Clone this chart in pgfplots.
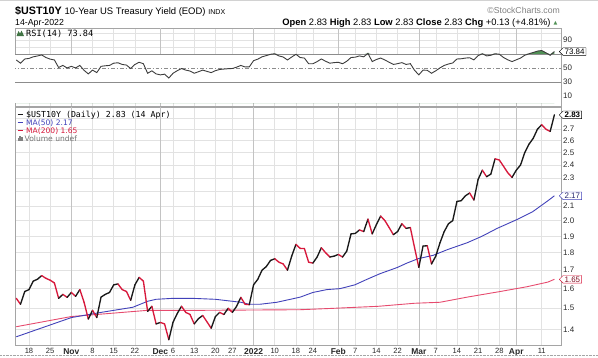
\documentclass[border=0pt]{standalone}
\usepackage{pgfplots}
\pgfplotsset{compat=1.18}
\usepackage{pgfplotstable}
\usetikzlibrary{shapes.symbols}
\usepackage{fontspec}
\setmainfont{Liberation Sans}
\newfontfamily\mono{DejaVu Sans Mono}
\newfontfamily\dejavu{DejaVu Sans}
\definecolor{upc}{RGB}{25,25,25}
\definecolor{dnc}{RGB}{215,25,60}
\definecolor{ma50}{RGB}{65,65,185}
\definecolor{ma200}{RGB}{230,75,110}
\definecolor{gridc}{RGB}{226,226,226}
\definecolor{gridm}{RGB}{195,195,195}
\definecolor{framec}{RGB}{165,165,165}
\definecolor{tickc}{RGB}{40,40,40}
\definecolor{rsiline}{RGB}{60,60,60}
\definecolor{rsiref}{RGB}{140,140,140}
\definecolor{rsifill}{RGB}{80,145,85}

\pgfplotstableread{
x y d
-3 1.55 0
-2 1.52 1
-1 1.585 1
0 1.595 1
1 1.64 1
2 1.65 1
3 1.67 0
4 1.655 0
5 1.645 0
6 1.63 0
7 1.55 1
8 1.57 0
9 1.555 1
10 1.58 0
11 1.56 1
12 1.595 0
13 1.53 0
14 1.448 1
15 1.49 0
16 1.455 1
17 1.556 1
18 1.57 1
19 1.58 1
20 1.62 1
21 1.625 0
22 1.595 0
23 1.585 0
24 1.54 1
25 1.62 1
26 1.66 0
27 1.64 0
28 1.485 1
29 1.51 0
30 1.425 1
31 1.432 0
32 1.425 0
33 1.353 1
34 1.433 1
35 1.475 1
36 1.51 0
37 1.48 0
38 1.47 0
39 1.425 1
40 1.45 1
41 1.465 0
42 1.435 0
43 1.405 1
44 1.46 1
45 1.48 0
46 1.47 1
47 1.50 0
48 1.48 1
49 1.51 1
50 1.555 0
51 1.52 0
52 1.518 1
53 1.62 1
54 1.65 1
55 1.70 1
56 1.72 1
57 1.755 1
58 1.765 0
59 1.745 0
60 1.735 0
61 1.70 1
62 1.78 1
63 1.85 0
64 1.826 0
65 1.825 0
66 1.745 0
67 1.74 1
68 1.775 1
69 1.83 0
70 1.80 0
71 1.775 1
72 1.78 1
73 1.79 0
74 1.775 1
75 1.81 1
76 1.915 1
77 1.918 1
78 1.94 0
79 1.93 1
80 2.01 0
81 1.915 1
82 1.975 1
83 2.03 0
84 2.00 0
85 1.955 0
86 1.91 1
87 1.93 1
88 1.98 0
89 1.95 1
90 1.955 0
91 1.83 0
92 1.716 1
93 1.84 1
94 1.842 0
95 1.735 1
96 1.78 1
97 1.86 1
98 1.93 1
99 1.98 1
100 2.00 1
101 2.13 1
102 2.135 1
103 2.17 1
104 2.19 0
105 2.14 1
106 2.29 1
107 2.36 0
108 2.31 1
109 2.33 1
110 2.45 0
111 2.44 0
112 2.39 0
113 2.34 0
114 2.305 1
115 2.36 1
116 2.40 1
117 2.50 1
118 2.57 1
119 2.62 1
120 2.70 1
121 2.74 0
122 2.70 0
123 2.68 1
124 2.83 1
}\price

\pgfplotstableread{
x y
-3 1.366
10 1.455
17 1.48
24.5 1.505
28 1.535
30 1.545
34 1.55
38.5 1.55
44 1.545
50 1.53
52 1.52
54.5 1.52
58.5 1.53
64 1.556
67 1.58
70.3 1.595
73.4 1.60
76.9 1.62
79.8 1.65
82.8 1.68
86.9 1.715
89.2 1.74
91.8 1.765
95.4 1.785
98.9 1.82
103.4 1.86
106.9 1.90
110.5 1.95
115.4 2.01
118.9 2.06
122.7 2.14
124 2.17
}\mafifty

\pgfplotstableread{
x y
-3 1.412
10 1.46
28 1.49
40 1.49
64 1.493
72 1.50
82.5 1.51
91 1.525
97 1.53
103.4 1.556
111.2 1.585
117.5 1.61
122.5 1.635
124 1.65
}\matwohundred

\pgfplotstableread{
x r f
-3 61.8 70
-2 57.2 70
-1 63.2 70
0 64 70
1 66.3 70
2 67.5 70
3 69 70
4 65.3 70
5 63 70
6 61.8 70
7 51 70
8 54 70
9 50.4 70
10 52.7 70
11 50.4 70
12 54 70
13 47 70
14 41.9 70
15 47.3 70
16 43.7 70
17 52.7 70
18 53.5 70
19 54 70
20 57.2 70
21 57.8 70
22 55.4 70
23 54.5 70
24 49.6 70
25 55.4 70
26 58.5 70
27 56.4 70
28 42.8 70
29 46.3 70
30 41.9 70
31 40.5 70
32 41.5 70
33 36 70
34 42.8 70
35 46.5 70
36 49.6 70
37 47.3 70
38 46 70
39 42.8 70
40 45 70
41 47.3 70
42 45.5 70
43 43.7 70
44 46.5 70
45 48.2 70
46 48.8 70
47 49.3 70
48 49.6 70
49 51.5 70
50 54 70
51 51.8 70
52 52 70
53 60.8 70
54 63 70
55 66.3 70
56 68 70
57 69.9 70
58 70.7 70.7
59 67.6 70
60 66 70
61 61.8 70
62 66 70
63 69.9 70
64 65.3 70
65 64.5 70
66 56.4 70
67 56.4 70
68 59.5 70
69 63.2 70
70 60 70
71 57.2 70
72 58 70
73 58.5 70
74 56.4 70
75 60 70
76 65.3 70
77 65.8 70
78 67.6 70
79 66.3 70
80 71.3 71.3
81 59.5 70
82 62.5 70
83 64.5 70
84 61.8 70
85 58.5 70
86 55.4 70
87 56.5 70
88 58 70
89 55.4 70
90 56.5 70
91 47 70
92 40.5 70
93 47.3 70
94 47 70
95 42.8 70
96 46.3 70
97 50.5 70
98 54 70
99 56 70
100 57.5 70
101 63.2 70
102 63.5 70
103 64.5 70
104 65 70
105 62 70
106 68 70
107 70.7 70.7
108 67.6 70
109 68.5 70
110 70.7 70.7
111 70 70
112 65.3 70
113 62 70
114 59.5 70
115 62 70
116 64.5 70
117 68.5 70
118 70.7 70.7
119 72.5 72.5
120 74.5 74.5
121 75.3 75.3
122 72.1 72.1
123 68.5 70
124 73.84 73.84
}\rsi

\pgfplotsset{
  common/.style={
    scale only axis, width=546bp,
    xmin=-3.3, xmax=125.56,
    axis line style={draw=framec},
    major tick length=0pt,
    grid=major, major grid style={draw=gridc, line width=0.5pt},
    xtick={0,5,15,20,25,34,39,44,48,58,63,67,77,82,87,96,101,106,111,121},
    extra x ticks={10,31,53,73,92,115},
    extra x tick style={grid=major, major grid style={draw=gridm, line width=0.6pt}},
  }
}

\begin{document}
\begin{tikzpicture}[x=1bp,y=1bp]
\path[use as bounding box] (0,0) rectangle (598,357);
\draw[gray!35, line width=1.2bp] (0,356.4) -- (598,356.4);

% header
\node[anchor=base west, inner sep=0] at (15,342.5) {{\bfseries\fontsize{10.8}{12}\selectfont\$UST10Y} {\fontsize{9.5}{11}\selectfont 10-Year US Treasury Yield (EOD)} {\fontsize{7.1}{8}\selectfont INDX}};
\node[anchor=base west, inner sep=0] at (15,332) {\fontsize{8.8}{10}\selectfont 14-Apr-2022};
\node[anchor=base east, inner sep=0, text=gray] at (560,344) {\fontsize{8.7}{10}\selectfont ©StockCharts.com};
\node[anchor=base east, inner sep=0] at (550.7,332) {\fontsize{9.4}{11}\selectfont\textbf{Open} 2.83 \textbf{High} 2.83 \textbf{Low} 2.83 \textbf{Close} 2.83 \textbf{Chg} +0.13 (+4.81\%)};
\node[anchor=base west, inner sep=0, text=rsifill] at (553.5,333) {\dejavu\fontsize{5}{6}\selectfont ▲};

% RSI panel
\begin{axis}[common,
  at={(15bp,251bp)}, anchor=south west, height=78bp,
  ymin=-4, ymax=107.5,
  xticklabels={}, extra x tick labels={},
  ytick={10,20,30,40,50,60,70,80,90,100},
  yticklabels={10,{},30,{},50,{},{},{},90,{}},
  yticklabel pos=right,
  yticklabel style={font=\fontsize{8}{9}\selectfont, text=tickc, anchor=west, inner sep=0pt, xshift=2bp},
]
\addplot[fill=rsifill, draw=none] table[x=x, y=f] {\rsi} \closedcycle;
\addplot[fill=white, draw=none] coordinates {(-3.3,70) (125.56,70)} \closedcycle;
\addplot[rsiref, line width=0.7pt] coordinates {(-4,70) (127,70)};
\addplot[rsiref, line width=0.7pt] coordinates {(-4,30) (127,30)};
\addplot[rsiref, line width=0.7pt, dash pattern=on 4pt off 2pt on 1pt off 2pt] coordinates {(-4,50) (127,50)};
\addplot[rsiline, line width=0.9pt] table[x=x, y=r] {\rsi};
\coordinate (rsilab) at (axis cs:125.56,73.84);
\end{axis}

% main panel
\begin{axis}[common,
  at={(15bp,12bp)}, anchor=south west, height=238bp,
  ymode=log, ymin=1.3297, ymax=2.904,
  xticklabels={18,25,8,15,22,6,13,20,27,10,18,24,7,14,22,7,14,21,28,11},
  extra x tick labels={Nov,Dec,2022,Feb,Mar,Apr},
  xticklabel style={font=\fontsize{7.6}{9}\selectfont, text=tickc, inner sep=0pt, anchor=north, yshift=-3.5bp},
  extra x tick style={xticklabel style={font=\bfseries\fontsize{8.5}{9}\selectfont}},
  ytick={1.4,1.5,1.6,1.7,1.8,1.9,2.0,2.1,2.2,2.3,2.4,2.5,2.6,2.7,2.8},
  yticklabels={1.4,1.5,1.6,1.7,1.8,1.9,2.0,2.1,{},2.3,2.4,2.5,2.6,2.7,{}},
  yticklabel pos=right,
  yticklabel style={font=\fontsize{8}{9}\selectfont, text=tickc, anchor=west, inner sep=0pt, xshift=2bp},
]
\addplot[ma200, line width=0.9pt] table[x=x, y=y] {\matwohundred};
\addplot[ma50, line width=0.9pt] table[x=x, y=y] {\mafifty};
\addplot[mesh, shader=flat corner, point meta=explicit, point meta min=0, point meta max=1,
  colormap={updn}{color=(dnc) color=(upc)}, line width=1.35pt, line cap=round, line join=round]
  table[x=x, y=y, meta=d] {\price};
\coordinate (lab283) at (axis cs:125.56,2.83);
\coordinate (lab217) at (axis cs:125.56,2.17);
\coordinate (lab165) at (axis cs:125.56,1.65);
\end{axis}

\node[signal, signal to=west, draw=black, fill=white, inner xsep=1.5pt, inner ysep=1pt, anchor=west, font=\fontsize{8}{9}\selectfont, xshift=-2bp] at (rsilab) {73.84};
\node[signal, signal to=west, draw=black, fill=white, inner xsep=1.5pt, inner ysep=1pt, anchor=west, font=\bfseries\fontsize{8}{9}\selectfont, xshift=-2bp] at (lab283) {2.83};
\node[signal, signal to=west, draw=ma50, fill=white, text=ma50!60!black, inner xsep=1.5pt, inner ysep=1pt, anchor=west, font=\fontsize{8}{9}\selectfont, xshift=-2bp] at (lab217) {2.17};
\node[signal, signal to=west, draw=dnc, fill=white, text=dnc!60!black, inner xsep=1.5pt, inner ysep=1pt, anchor=west, font=\fontsize{8}{9}\selectfont, xshift=-2bp] at (lab165) {1.65};

% RSI label
\fill[rsifill!80!black] (16.5,321) -- (18.5,326) -- (20,323.5) -- (21.5,326.5) -- (24,321) -- cycle;
\node[anchor=base west, inner sep=0] at (26,321) {\mono\fontsize{8.6}{10}\selectfont RSI(14) 73.84};

% legend
\draw[upc, line width=1.6bp] (17.5,242.5) -- (23,242.5);
\node[anchor=base west, inner sep=0] at (26,239.7) {\mono\fontsize{8.3}{10}\selectfont \$UST10Y (Daily) 2.83 (14 Apr)};
\draw[ma50, line width=1.6bp] (17.5,234.5) -- (23,234.5);
\node[anchor=base west, inner sep=0, text=ma50] at (26,231.8) {\dejavu\fontsize{7.6}{8}\selectfont MA(50) 2.17};
\draw[dnc, line width=1.6bp] (17.5,226.5) -- (23,226.5);
\node[anchor=base west, inner sep=0, text=dnc] at (26,223.8) {\dejavu\fontsize{7.6}{8}\selectfont MA(200) 1.65};
\fill[gray] (17.5,216) rectangle (18.7,219);
\fill[gray] (19.4,216) rectangle (20.6,221);
\fill[gray] (21.3,216) rectangle (22.5,220);
\node[anchor=base west, inner sep=0, text=gray!90!black] at (24.5,215.8) {\dejavu\fontsize{7.6}{8}\selectfont Volume undef};

\draw[framec, densely dotted] (0,1.5) -- (598,1.5);
\end{tikzpicture}
\end{document}
